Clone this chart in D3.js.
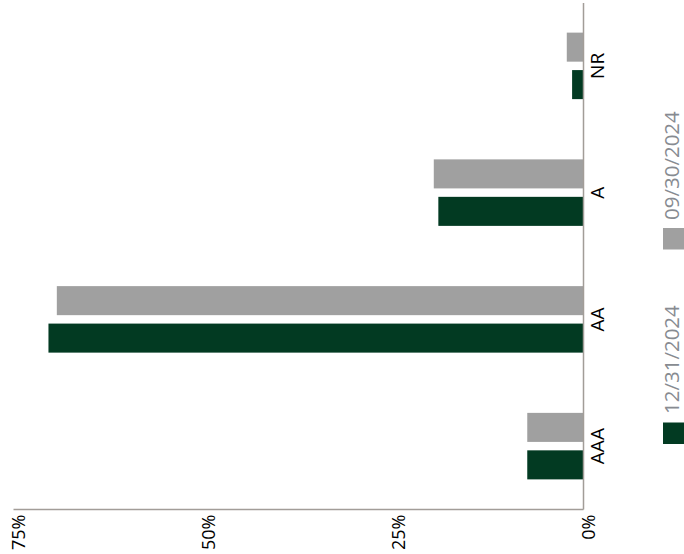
<!DOCTYPE html>
<html>
<head>
<meta charset="utf-8">
<script src="https://cdn.jsdelivr.net/npm/d3@7"></script>
<style>
  html, body { margin: 0; padding: 0; background: #fff; }
  svg { display: block; font-family: "Open Sans", "DejaVu Sans", sans-serif; }
</style>
</head>
<body>
<svg id="chart" width="684" height="554"></svg>
<script>
// Credit quality breakdown (% of portfolio), two reporting dates
const categories = ["AAA", "AA", "A", "NR"];
const seriesNames = ["12/31/2024", "09/30/2024"];
const valuesDec = [7.4, 70.4, 19.1, 1.5];   // 12/31/2024
const valuesSep = [7.4, 69.3, 19.7, 2.2];   // 09/30/2024
const tickValues = [0, 25, 50, 75];
const tickLabels = ["0%", "25%", "50%", "75%"];

const colors = { "12/31/2024": "#023a22", "09/30/2024": "#a0a0a0" };
const seriesValues = { "12/31/2024": valuesDec, "09/30/2024": valuesSep };

const svg = d3.select("#chart");

// Value axis runs right-to-left, categories stack bottom-to-top
const x = d3.scaleLinear().domain([0, 75]).range([583.5, 13.5]);
const y = d3.scaleBand().domain(categories).range([509.5, 2.5]).paddingInner(0).paddingOuter(0);
const inner = d3.scaleBand()
  .domain(["09/30/2024", "12/31/2024"])
  .range([y.bandwidth() / 2 - 33.25, y.bandwidth() / 2 + 33.25])
  .paddingInner(0.225).paddingOuter(0);

const rows = categories.map((c, i) => ({
  cat: c,
  bars: seriesNames.map(s => ({ series: s, value: seriesValues[s][i] }))
}));

// Bars
const groups = svg.append("g").selectAll("g")
  .data(rows).join("g")
  .attr("transform", d => `translate(0,${y(d.cat)})`);

groups.selectAll("rect")
  .data(d => d.bars).join("rect")
  .attr("x", d => x(d.value))
  .attr("y", d => inner(d.series))
  .attr("width", d => x(0) - x(d.value))
  .attr("height", inner.bandwidth())
  .attr("fill", d => colors[d.series]);

// Value axis along the bottom
const xAxis = svg.append("g")
  .attr("transform", "translate(0,509.5)")
  .call(d3.axisBottom(x).tickValues(tickValues).tickSize(0)
    .tickFormat(d => tickLabels[tickValues.indexOf(d)]));
xAxis.select(".domain").attr("stroke", "#a29d98").attr("stroke-width", 1.5)
  .attr("d", `M${x(75)},0H${x(0)}`);
xAxis.selectAll(".tick text")
  .attr("fill", "#000")
  .attr("font-size", "18px")
  .attr("font-family", "\"Open Sans\", sans-serif")
  .attr("text-anchor", "end")
  .attr("y", 0).attr("dy", 0)
  .attr("transform", "translate(11,5) rotate(-90)");

// Category axis at zero
const yAxis = svg.append("g")
  .attr("transform", `translate(${x(0)},0)`)
  .call(d3.axisRight(y).tickSize(0));
yAxis.select(".domain").attr("stroke", "#a29d98").attr("stroke-width", 1.5)
  .attr("d", "M0,3V509.5");
yAxis.selectAll(".tick text")
  .attr("fill", "#000")
  .attr("font-size", "19px")
  .attr("font-family", "\"Open Sans\", sans-serif")
  .attr("text-anchor", "middle")
  .attr("x", 0).attr("dy", 0)
  .attr("transform", "translate(20.5,0) rotate(-90)");

// Legend, reading bottom-to-top on the right edge
const legendItems = [
  { name: "12/31/2024", swatchY: 422.5, textY: 414 },
  { name: "09/30/2024", swatchY: 228, textY: 220 }
];
const legend = svg.append("g");
legendItems.forEach(item => {
  legend.append("rect")
    .attr("x", 663).attr("y", item.swatchY)
    .attr("width", 22).attr("height", 21.5)
    .attr("fill", colors[item.name]);
  legend.append("text")
    .attr("transform", `translate(678.5,${item.textY}) rotate(-90)`)
    .attr("font-size", "20.5px")
    .attr("fill", "#878b91")
    .attr("text-anchor", "start")
    .text(item.name);
});
</script>
</body>
</html>
